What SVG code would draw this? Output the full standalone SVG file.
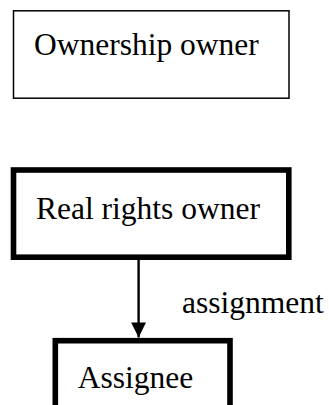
<svg xmlns="http://www.w3.org/2000/svg" width="329" height="405" viewBox="0 0 329 405">
  <style>
    .box { fill: #ffffff; stroke: #000000; }
    .thin { stroke-width: 1.5; }
    .thick { stroke-width: 5.6; }
    .label { font-family: "Liberation Serif", "Times New Roman", serif; font-size: 31.5px; fill: #000000; }
    .edge { stroke: #000000; stroke-width: 2.4; fill: none; }
  </style>
  <defs>
    <marker id="arrow" markerUnits="userSpaceOnUse" markerWidth="16" markerHeight="16" refX="15" refY="7.5" orient="auto">
      <path d="M0,0 L15,7.5 L0,15 Z" fill="#000000"/>
    </marker>
  </defs>
  <rect width="329" height="405" fill="#ffffff"/>

  <g id="node-ownership-owner">
    <rect class="box thin" x="13.5" y="10.8" width="275.5" height="87.4"/>
    <text class="label" x="34" y="55">Ownership owner</text>
  </g>

  <g id="node-real-rights-owner">
    <rect class="box thick" x="13.5" y="170" width="275.3" height="87.2"/>
    <text class="label" x="36" y="219">Real rights owner</text>
  </g>

  <g id="node-assignee">
    <rect class="box thick" x="55.3" y="340.7" width="174.7" height="90"/>
    <text class="label" x="77.7" y="387.7">Assignee</text>
  </g>

  <g id="connectors">
    <line class="edge" x1="138.6" y1="259.5" x2="138.6" y2="337.4" marker-end="url(#arrow)"/>
    <text class="label" x="182" y="313">assignment</text>
  </g>
</svg>
